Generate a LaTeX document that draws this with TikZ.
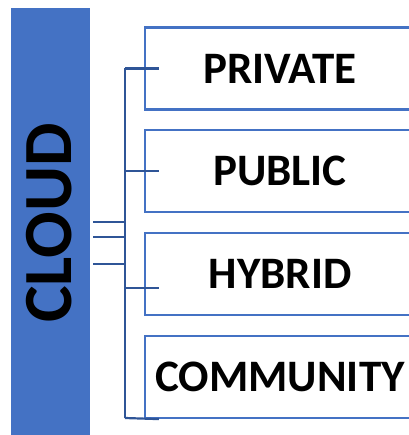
\documentclass[tikz,border=0pt]{standalone}
\usepackage{fontspec}
\setmainfont{Carlito}
\usetikzlibrary{calc}
\definecolor{boxblue}{HTML}{4472C4}
\definecolor{trunkblue}{HTML}{2F5597}
\tikzset{
  cat/.style={draw=boxblue, line width=2.2pt, fill=white, minimum width=270pt, minimum height=82pt, inner sep=0pt, font=\bfseries\fontsize{45}{45}\selectfont},
  link/.style={draw=trunkblue, line width=2.2pt},
}
\begin{document}
\begin{tikzpicture}[x=1pt,y=-1pt]
\useasboundingbox (0,0) rectangle (408,435);
\node[fill=boxblue, minimum width=79pt, minimum height=430pt, inner sep=0pt] (bar) at (50.5,223) {};
\node[rotate=90, font=\bfseries\fontsize{69}{69}\selectfont] (cloud) at (49,223) {CLOUD};
\node[cat] (b1) at (280,68.5) {PRIVATE};
\node[cat] (b2) at (280,171) {PUBLIC};
\node[cat] (b3) at (280,274) {HYBRID};
\node[cat] (b4) at (280,377) {COMMUNITY};
\coordinate (top) at (125,68.5);
\coordinate (bot) at (125,418);
\draw[link] (top) -- (bot);
\draw[link] (top) -- ($(b1.west)+(15,0)$);
\draw[link] (125,171) -- ($(b2.west)+(15,0)$);
\draw[link] (125,288) -- ($(b3.west)+(15,14)$);
\draw[link] (bot) -- ($(b4.south west)+(15,0)$);
\draw[link] ($(bar.east)+(3,-1)$) -- (125,222);
\draw[link] ($(bar.east)+(3,14)$) -- (125,237);
\draw[link] ($(bar.east)+(3,41)$) -- (125,264);
\end{tikzpicture}
\end{document}
